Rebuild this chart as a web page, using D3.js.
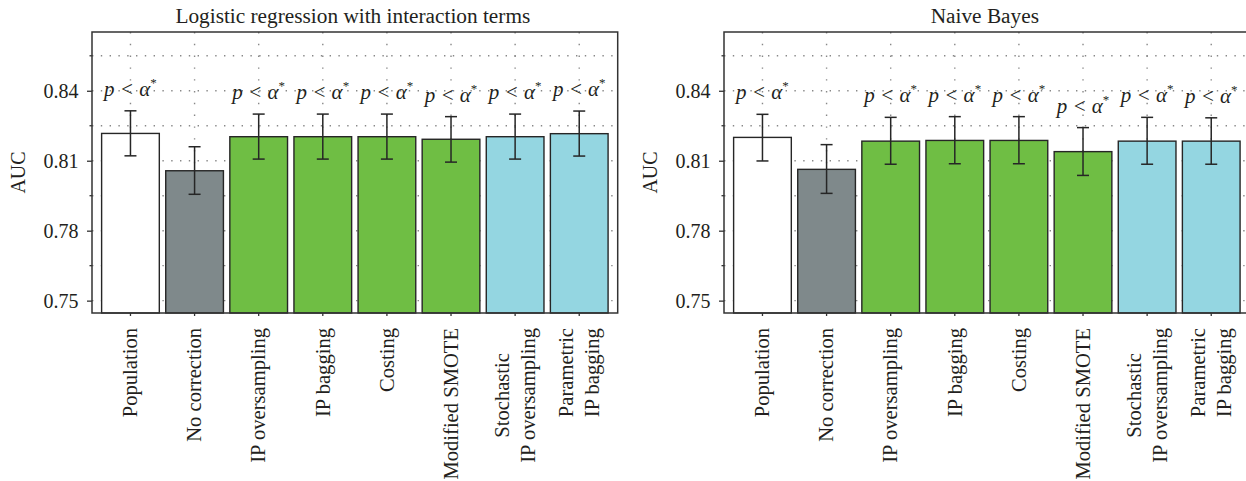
<!DOCTYPE html>
<html>
<head>
<meta charset="utf-8">
<script src="https://cdn.jsdelivr.net/npm/d3@7"></script>
<style>
  body { margin: 0; background: #fff; }
  text { font-family: "Liberation Serif", "Times New Roman", "DejaVu Serif", serif; fill: #231f20; }
</style>
</head>
<body>
<svg id="chart" width="1246" height="481"></svg>
<script>
// Sampling / correction methods on the x axis (line breaks split the label)
const categories = [
  "Population", "No correction", "IP oversampling", "IP bagging",
  "Costing", "Modified SMOTE", "Stochastic\nIP oversampling", "Parametric\nIP bagging"
];
// Method family, used for the bar fill
const methodGroup = ["population", "none", "ip", "ip", "ip", "ip", "parametric", "parametric"];
// Whether the method differs significantly from "No correction"
const significant = [true, false, true, true, true, true, true, true];

const yTickValues = [0.75, 0.78, 0.81, 0.84];

// Logistic regression with interaction terms: mean AUC and interval bounds
const lrMean = [0.8217, 0.8057, 0.8203, 0.8203, 0.8203, 0.8192, 0.8203, 0.8216];
const lrLow  = [0.8121, 0.7956, 0.8107, 0.8107, 0.8107, 0.8094, 0.8107, 0.8120];
const lrHigh = [0.8314, 0.8160, 0.8300, 0.8300, 0.8300, 0.8289, 0.8300, 0.8313];

// Naive Bayes: mean AUC and interval bounds
const nbMean = [0.8200, 0.8063, 0.8184, 0.8187, 0.8187, 0.8139, 0.8184, 0.8184];
const nbLow  = [0.8099, 0.7960, 0.8085, 0.8087, 0.8087, 0.8037, 0.8085, 0.8085];
const nbHigh = [0.8299, 0.8169, 0.8286, 0.8289, 0.8289, 0.8242, 0.8286, 0.8284];

const panelTitles = ["Logistic regression with interaction terms", "Naive Bayes"];

const fillColor = d3.scaleOrdinal()
  .domain(["population", "none", "ip", "parametric"])
  .range(["#ffffff", "#7f898b", "#6fbe44", "#94d6e1"]);

const svg = d3.select("#chart");
svg.append("rect").attr("width", 1246).attr("height", 481).attr("fill", "#fff");

const plotTop = 32, plotBottom = 313, plotW = 525.7;
const y = d3.scaleLinear().domain([0.7447, 0.8652]).range([plotBottom, plotTop]);
const gridValues = d3.range(0, 8).map(i => +(0.75 + i * 0.015).toFixed(3));
const minorValues = gridValues.filter(v => !yTickValues.some(t => Math.abs(t - v) < 1e-6));

function drawPanel(x0, title, mean, low, high) {
  const g = svg.append("g");
  const x = d3.scaleBand().domain(categories).range([x0, x0 + plotW])
    .paddingInner(0.1).paddingOuter(0.15);
  const cx = c => x(c) + x.bandwidth() / 2;

  // dotted grid behind the bars
  g.append("g").selectAll("line").data(gridValues).join("line")
    .attr("x1", x0).attr("x2", x0 + plotW)
    .attr("y1", d => y(d)).attr("y2", d => y(d))
    .attr("stroke", "#888").attr("stroke-width", 1.4)
    .attr("stroke-dasharray", "1.4,7.4");
  g.append("g").selectAll("line").data(categories).join("line")
    .attr("x1", d => cx(d)).attr("x2", d => cx(d))
    .attr("y1", plotTop).attr("y2", plotBottom)
    .attr("stroke", "#888").attr("stroke-width", 1.4)
    .attr("stroke-dasharray", "1.4,10.4");

  // bars
  g.append("g").selectAll("rect").data(categories).join("rect")
    .attr("x", d => x(d)).attr("width", x.bandwidth())
    .attr("y", (d, i) => y(mean[i]))
    .attr("height", (d, i) => plotBottom - y(mean[i]))
    .attr("fill", (d, i) => fillColor(methodGroup[i]))
    .attr("stroke", "#262626").attr("stroke-width", 1.4);

  // error bars
  const eb = g.append("g").attr("stroke", "#262626").attr("stroke-width", 1.5);
  categories.forEach((c, i) => {
    const xc = cx(c);
    eb.append("line").attr("x1", xc).attr("x2", xc).attr("y1", y(low[i])).attr("y2", y(high[i]));
    eb.append("line").attr("x1", xc - 6).attr("x2", xc + 6).attr("y1", y(low[i])).attr("y2", y(low[i]));
    eb.append("line").attr("x1", xc - 6).attr("x2", xc + 6).attr("y1", y(high[i])).attr("y2", y(high[i]));
  });

  // significance labels
  categories.forEach((c, i) => {
    if (!significant[i]) return;
    const t = g.append("text")
      .attr("x", cx(c)).attr("y", y(high[i]) - 15)
      .attr("text-anchor", "middle").attr("font-size", 21).attr("font-style", "italic");
    t.append("tspan").text("p < α");
    t.append("tspan").attr("font-size", 13).attr("dy", -9).attr("font-style", "normal").text("*");
  });

  // frame
  g.append("rect").attr("x", x0).attr("y", plotTop).attr("width", plotW).attr("height", plotBottom - plotTop)
    .attr("fill", "none").attr("stroke", "#333").attr("stroke-width", 1.5);

  // y axis
  const yAxis = g.append("g").attr("transform", `translate(${x0},0)`)
    .call(d3.axisLeft(y).tickValues(yTickValues).tickSize(5).tickPadding(8.5).tickFormat(d3.format(".2f")));
  yAxis.select(".domain").remove();
  yAxis.selectAll(".tick line").attr("stroke", "#333").attr("stroke-width", 1.3);
  yAxis.selectAll(".tick text").attr("font-size", 20).attr("font-family", null).attr("fill", "#231f20");
  g.append("g").selectAll("line").data(minorValues).join("line")
    .attr("x1", x0 - 2.5).attr("x2", x0).attr("y1", d => y(d)).attr("y2", d => y(d))
    .attr("stroke", "#333").attr("stroke-width", 1.3);

  // x axis ticks
  const xAxis = g.append("g").attr("transform", `translate(0,${plotBottom})`)
    .call(d3.axisBottom(x).tickSize(3).tickFormat(""));
  xAxis.select(".domain").remove();
  xAxis.selectAll(".tick line").attr("stroke", "#333").attr("stroke-width", 1.3);

  // rotated category labels
  categories.forEach(c => {
    const lines = c.split("\n");
    const lg = g.append("g").attr("transform", `translate(${cx(c)},${plotBottom + 15}) rotate(-90)`);
    const texts = lines.map((ln, k) => lg.append("text")
      .attr("font-size", 20.6).attr("text-anchor", "middle")
      .attr("y", (k - (lines.length - 1) / 2) * 26.5).attr("dy", "0.33em").text(ln));
    const maxLen = d3.max(texts, t => t.node().getComputedTextLength());
    texts.forEach(t => t.attr("x", -maxLen / 2));
  });

  // y axis title
  g.append("text").attr("transform", `translate(${x0 - 67},${(plotTop + plotBottom) / 2}) rotate(-90)`)
    .attr("text-anchor", "middle").attr("font-size", 20).text("AUC");

  // panel title
  g.append("text").attr("x", x0 + plotW / 2 - 2).attr("y", 22.5)
    .attr("text-anchor", "middle").attr("font-size", 21.3).text(title);
}

drawPanel(92, panelTitles[0], lrMean, lrLow, lrHigh);
drawPanel(724, panelTitles[1], nbMean, nbLow, nbHigh);
</script>
</body>
</html>
